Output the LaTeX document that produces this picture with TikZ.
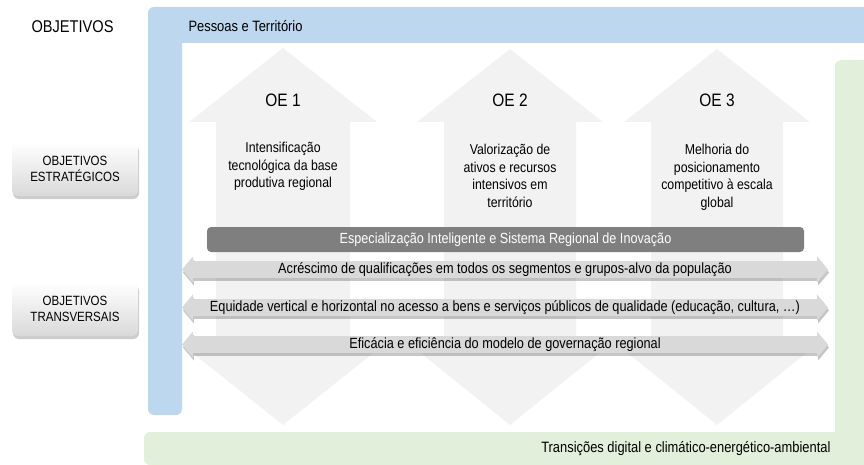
\documentclass[tikz,border=0pt]{standalone}
\usepackage{fontspec}
\setmainfont[FakeStretch=0.86]{Liberation Sans}
\usetikzlibrary{shapes.arrows,shadows}

\definecolor{bluefr}{HTML}{BDD7EE}
\definecolor{greenfr}{HTML}{E2EFDA}
\definecolor{oegray}{HTML}{F2F2F2}
\definecolor{rowgray}{HTML}{D9D9D9}
\definecolor{bargray}{HTML}{7F7F7F}

\tikzset{
	oearrow/.style={fill=oegray},
	oelabel/.style={font=\fontsize{18}{20}\selectfont},
	oetext/.style={anchor=north, align=center, font=\fontsize{14.3}{17.5}\selectfont},
	hrow/.style={double arrow, fill=rowgray, double arrow head extend=4pt,
		double arrow tip angle=100, minimum height=646pt, minimum width=26pt,
		inner sep=0pt, drop shadow={shadow xshift=1pt, shadow yshift=-3pt, opacity=.45},
		font=\fontsize{14.8}{16}\selectfont},
	sidebox/.style={rounded corners=6pt, top color=white, bottom color=rowgray,
		minimum width=126pt, minimum height=54pt, align=center,
		drop shadow={shadow xshift=1pt, shadow yshift=-3pt, opacity=.4},
		font=\fontsize{13.4}{15.5}\selectfont},
	sibar/.style={rounded corners=4pt, fill=bargray, text=white, minimum width=597pt,
		minimum height=25pt, inner sep=0pt, font=\fontsize{14.7}{16}\selectfont},
	frtext/.style={font=\fontsize{15}{17}\selectfont}
}

\begin{document}
\begin{tikzpicture}[x=1pt,y=-1pt]
	\useasboundingbox (0,0) rectangle (864,465);
	\fill[bluefr, rounded corners=6pt] (148,7) rectangle (182,415);
	\fill[bluefr] (165,7) rectangle (864,43);
	\fill[greenfr, rounded corners=6pt] (835,60) rectangle (864,465);
	\fill[greenfr] (850,60) rectangle (864,465);
	\fill[greenfr, rounded corners=6pt] (144,432) rectangle (500,465);
	\fill[greenfr] (160,432) rectangle (864,465);

	\fill[oearrow] (283,48) -- (377,122) -- (350,122) -- (350,350) -- (377,350) -- (283,425) -- (189,350) -- (216,350) -- (216,122) -- (189,122) -- cycle;
	\fill[oearrow] (510,49) -- (603,122) -- (576,122) -- (576,350) -- (603,350) -- (510,425) -- (417,350) -- (444,350) -- (444,122) -- (417,122) -- cycle;
	\fill[oearrow] (717,49) -- (810,122) -- (783,122) -- (783,350) -- (810,350) -- (717,425) -- (624,350) -- (651,350) -- (651,122) -- (624,122) -- cycle;

	\node[anchor=west, font=\fontsize{17}{19}\selectfont] (tit) at (28,27) {OBJETIVOS};
	\node[frtext, anchor=west] (pt) at (185,26) {Pessoas e Território};
	\node[frtext, anchor=east] (tr) at (834,449) {Transições digital e climático-energético-ambiental};

	\node[sidebox] (oes) at (75,169) {OBJETIVOS\\ESTRATÉGICOS};
	\node[sidebox] (otr) at (75,309) {OBJETIVOS\\TRANSVERSAIS};

	\node[oelabel] (oe1) at (283,100) {OE 1};
	\node[oelabel] (oe2) at (510,100) {OE 2};
	\node[oelabel] (oe3) at (717,100) {OE 3};
	\node[oetext] (d1) at (283,139) {Intensificação\\tecnológica da base\\produtiva regional};
	\node[oetext] (d2) at (510,141) {Valorização de\\ativos e recursos\\intensivos em\\território};
	\node[oetext] (d3) at (717,141) {Melhoria do\\posicionamento\\competitivo à escala\\global};

	\node[sibar] (sri) at (505.5,239.5) {Especialização Inteligente e Sistema Regional de Inovação};

	\node[hrow] (h1) at (505,269.5) {Acréscimo de qualificações em todos os segmentos e grupos-alvo da população};
	\node[hrow] (h2) at (505,307.5) {Equidade vertical e horizontal no acesso a bens e serviços públicos de qualidade (educação, cultura, …)};
	\node[hrow] (h3) at (505,344.5) {Eficácia e eficiência do modelo de governação regional};
\end{tikzpicture}
\end{document}
